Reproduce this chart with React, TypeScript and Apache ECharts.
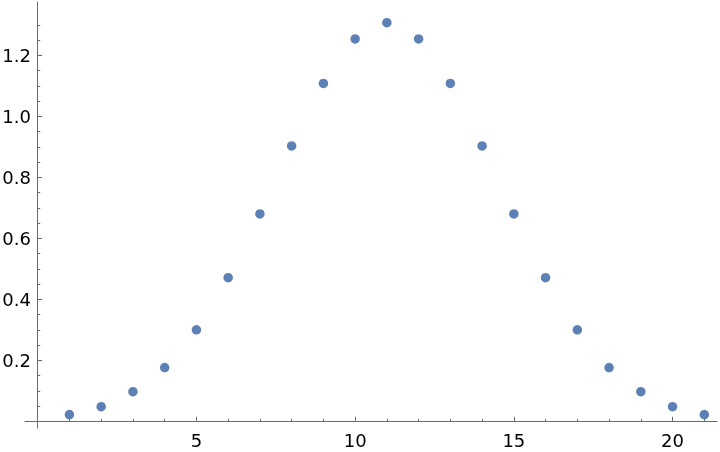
import React, { useEffect, useRef } from "react";
import * as echarts from "echarts";

const xValues = [1, 2, 3, 4, 5, 6, 7, 8, 9, 10, 11, 12, 13, 14, 15, 16, 17, 18, 19, 20, 21];
const yValues = [0.022, 0.048, 0.097, 0.176, 0.3, 0.471, 0.68, 0.903, 1.108, 1.254, 1.307, 1.254, 1.108, 0.903, 0.68, 0.471, 0.3, 0.176, 0.097, 0.048, 0.022];
const xMajorTicks = [5, 10, 15, 20];
const xMinorTicks = [1, 2, 3, 4, 6, 7, 8, 9, 11, 12, 13, 14, 16, 17, 18, 19, 21];
const yMajorTicks = [0.2, 0.4, 0.6, 0.8, 1.0, 1.2];
const yMinorTicks = [0.05, 0.1, 0.15, 0.25, 0.3, 0.35, 0.45, 0.5, 0.55, 0.65, 0.7, 0.75, 0.85, 0.9, 0.95, 1.05, 1.1, 1.15, 1.25, 1.3];

const AXIS = "#6b6b6b";
const FONT = "DejaVu Sans";

export default function App() {
  const ref = useRef<HTMLDivElement>(null);
  useEffect(() => {
    if (!ref.current) return;
    const chart = echarts.init(ref.current, null, { renderer: "svg" });
    const xRange = { min: -0.4, max: 21.4 };
    const yRange = { min: -0.022, max: 1.375 };
    chart.setOption({
      animation: false,
      grid: { left: 25, right: 3, top: 2, bottom: 24, containLabel: false, outerBoundsMode: "none" },
      xAxis: [
        {
          type: "value",
          ...xRange,
          position: "bottom",
          axisLine: { show: true, onZero: true, onZeroAxisIndex: 0, lineStyle: { color: AXIS, width: 1 } },
          axisTick: { show: true, inside: true, length: 4.5, customValues: xMajorTicks, lineStyle: { color: AXIS } },
          axisLabel: { show: true, customValues: xMajorTicks, margin: 3, color: "#000", fontFamily: FONT, fontSize: 18 },
          splitLine: { show: false },
        },
        {
          type: "value",
          ...xRange,
          position: "bottom",
          axisLine: { show: true, onZero: true, onZeroAxisIndex: 0, lineStyle: { color: AXIS, opacity: 0 } },
          axisTick: { show: true, inside: true, length: 2.5, customValues: xMinorTicks, lineStyle: { color: AXIS } },
          axisLabel: { show: false },
          splitLine: { show: false },
        },
      ],
      yAxis: [
        {
          type: "value",
          ...yRange,
          position: "left",
          axisLine: { show: true, onZero: true, onZeroAxisIndex: 0, lineStyle: { color: AXIS, width: 1 } },
          axisTick: { show: true, inside: true, length: 4.5, customValues: yMajorTicks, lineStyle: { color: AXIS } },
          axisLabel: {
            show: true,
            customValues: yMajorTicks,
            margin: -6,
            color: "#000",
            fontFamily: FONT,
            fontSize: 18,
            formatter: (v: number) => v.toFixed(1),
          },
          splitLine: { show: false },
        },
        {
          type: "value",
          ...yRange,
          position: "left",
          axisLine: { show: true, onZero: true, onZeroAxisIndex: 0, lineStyle: { color: AXIS, opacity: 0 } },
          axisTick: { show: true, inside: true, length: 2.5, customValues: yMinorTicks, lineStyle: { color: AXIS } },
          axisLabel: { show: false },
          splitLine: { show: false },
        },
      ],
      series: [
        {
          type: "scatter",
          xAxisIndex: 0,
          yAxisIndex: 0,
          symbol: "circle",
          symbolSize: 9.5,
          itemStyle: { color: "#5E81B5", opacity: 1 },
          data: xValues.map((x, i) => [x, yValues[i]]),
        },
      ],
    });
    return () => chart.dispose();
  }, []);
  return <div ref={ref} style={{ position: "fixed", left: 0, top: 0, width: 720, height: 452 }} />;
}
